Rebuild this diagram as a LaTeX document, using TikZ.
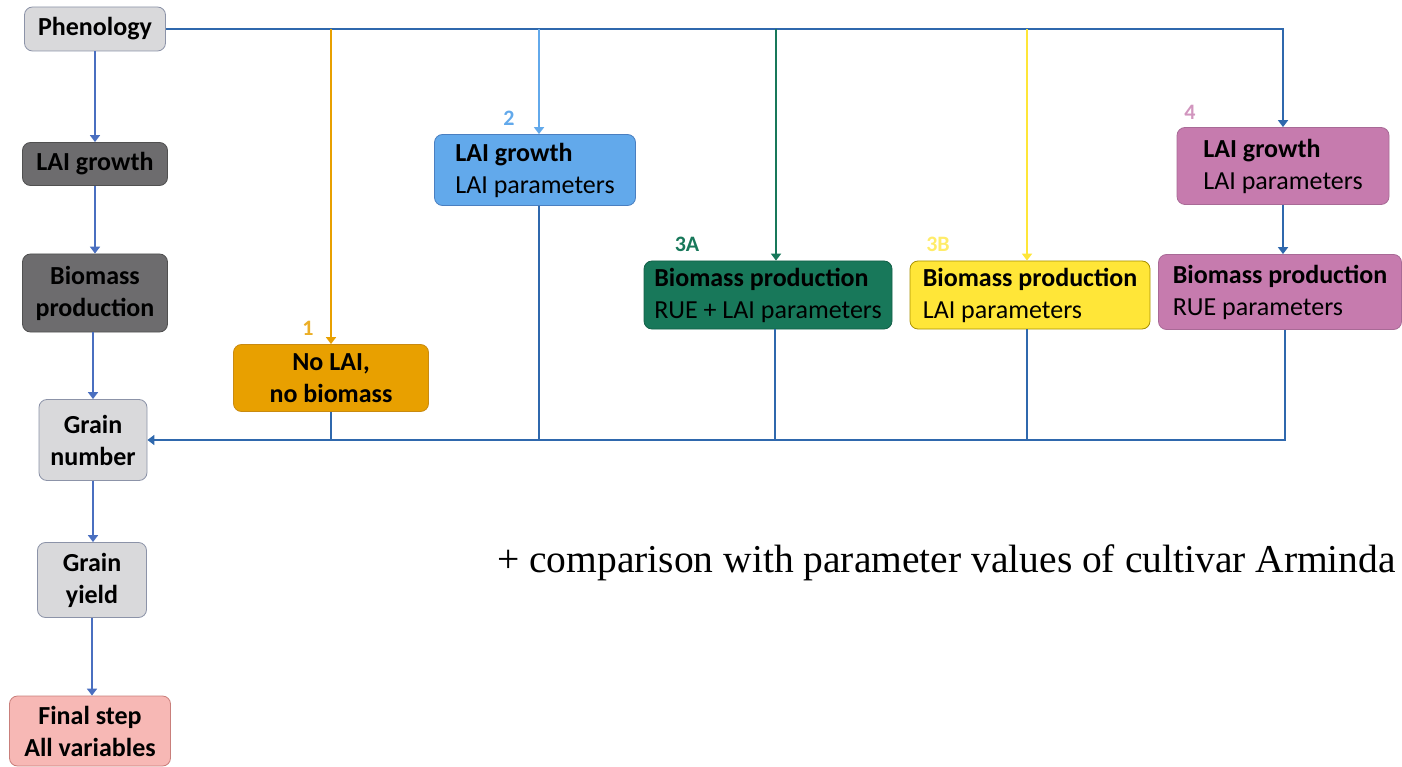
\documentclass[tikz,border=0pt]{standalone}
\usepackage{fontspec}
\setmainfont{Carlito}
\newfontfamily\notefont{Liberation Serif}
\usetikzlibrary{positioning,arrows.meta}
\definecolor{greyfill}{HTML}{D9D9DB}
\definecolor{greyline}{HTML}{8C93A8}
\definecolor{darkfill}{HTML}{6D6C6E}
\definecolor{darkline}{HTML}{505050}
\definecolor{pinkfill}{HTML}{F7B8B5}
\definecolor{pinkline}{HTML}{C97F7B}
\definecolor{orangefill}{HTML}{E8A000}
\definecolor{orangeline}{HTML}{C98A10}
\definecolor{lightblue}{HTML}{62A9EB}
\definecolor{lightblueline}{HTML}{4A7FC0}
\definecolor{greenfill}{HTML}{18785A}
\definecolor{yellowfill}{HTML}{FFE638}
\definecolor{yellowline}{HTML}{A89000}
\definecolor{mauve}{HTML}{C67BAE}
\definecolor{mauveline}{HTML}{A86A96}
\definecolor{chain}{HTML}{4A6FC0}
\definecolor{bus}{HTML}{2F68AD}

\begin{document}
\begin{tikzpicture}[x=1pt,y=-1pt,
  box/.style={draw, rounded corners=8pt, line width=0.8pt, align=center,
    inner sep=0pt, font=\fontsize{26}{32}\selectfont\bfseries},
  parbox/.style={draw, rounded corners=8pt, line width=0.8pt, align=left,
    inner sep=0pt, font=\fontsize{26}{32}\selectfont},
  tag/.style={font=\fontsize{22}{24}\selectfont\bfseries},
  chainarrow/.style={draw=chain, line width=2.4pt, -{Triangle[width=10pt,length=7pt]}},
  busline/.style={draw=bus, line width=2.4pt},
  busarrow/.style={busline, -{Triangle[width=10pt,length=7pt]}},
  droparrow/.style={line width=2.2pt, -{Triangle[width=10pt,length=7pt]}}]

  \useasboundingbox (0,0) rectangle (1402,767);

  % LEFT CHAIN
  \node[box, fill=greyfill, draw=greyline, minimum width=141pt, minimum height=44pt] (phen) at (95,29) {Phenology};
  \node[box, fill=darkfill, draw=darkline, minimum width=145pt, minimum height=43pt] (lail) at (95,164) {LAI growth};
  \node[box, fill=darkfill, draw=darkline, minimum width=145pt, minimum height=78pt] (biol) at (95,293) {Biomass\\production};
  \node[box, fill=greyfill, draw=greyline, minimum width=108pt, minimum height=81pt] (gnum) at (93,440) {Grain\\number};
  \node[box, fill=greyfill, draw=greyline, minimum width=109pt, minimum height=75pt] (gyld) at (92,580) {Grain\\yield};
  \node[box, fill=pinkfill, draw=pinkline, minimum width=161pt, minimum height=70pt] (fin) at (90,731) {Final step\\All variables};

  % OPTION BOXES
  \node[box, fill=orangefill, draw=orangeline, minimum width=195pt, minimum height=67pt] (opt1) at (331,378) {No LAI,\\no biomass};
  \node[parbox, fill=lightblue, draw=lightblueline, minimum width=201pt, minimum height=71pt] (opt2) at (535,170) {\textbf{LAI growth}\\LAI parameters};
  \node[parbox, fill=greenfill, draw=greenfill!80!black, minimum width=248pt, minimum height=68pt] (opt3a) at (768,295) {\textbf{Biomass production}\\RUE + LAI parameters};
  \node[parbox, fill=yellowfill, draw=yellowline, minimum width=240pt, minimum height=68pt] (opt3b) at (1030,295) {\textbf{Biomass production}\\LAI parameters};
  \node[parbox, fill=mauve, draw=mauveline, minimum width=212pt, minimum height=77pt] (lai4) at (1283,166) {\textbf{LAI growth}\\LAI parameters};
  \node[parbox, fill=mauve, draw=mauveline, minimum width=243pt, minimum height=75pt] (bio4) at (1280,292) {\textbf{Biomass production}\\RUE parameters};

  % TAGS
  \node[tag, text=orangefill!85!white] (tag1) at (308,328) {1};
  \node[tag, text=lightblue] (tag2) at (509,118) {2};
  \node[tag, text=greenfill] (tag3a) at (687,244) {3A};
  \node[tag, text=yellowfill!75!white] (tag3b) at (938,244) {3B};
  \node[tag, text=mauve!80!white] (tag4) at (1190,112) {4};

  \node[font=\notefont\fontsize{39.5}{44}\selectfont, anchor=base west, inner sep=0pt] (note) at (497,572) {+ comparison with parameter values of cultivar Arminda};

  % CHAIN ARROWS
  \draw[chainarrow] (phen.south) -- (phen.south |- lail.north);
  \draw[chainarrow] (lail.south) -- (lail.south |- biol.north);
  \draw[chainarrow] (gnum.north |- biol.south) -- (gnum.north);
  \draw[chainarrow] (gnum.south) -- (gnum.south |- gyld.north);
  \draw[chainarrow] (gyld.south) -- (gyld.south |- fin.north);

  % TOP BUS
  \draw[busarrow] (phen.east) -| (lai4.north);
  \draw[busarrow] (lai4) -- (lai4 |- bio4.north);
  \draw[droparrow, draw=orangefill] (phen.east -| opt1.north) -- (opt1.north);
  \draw[droparrow, draw=lightblue] (phen.east -| opt2.north) ++(4,0) -- ([xshift=4pt]opt2.north);
  \draw[droparrow, draw=greenfill] (phen.east -| opt3a.north) ++(8,0) -- ([xshift=8pt]opt3a.north);
  \draw[droparrow, draw=yellowfill] (phen.east -| opt3b.north) ++(-3,0) -- ([xshift=-3pt]opt3b.north);

  % BOTTOM BUS
  \draw[busarrow] ([xshift=5pt]bio4.south) |- (gnum.east);
  \draw[busline] (opt1.south) -- (opt1.south |- gnum.east);
  \draw[busline] ([xshift=4pt]opt2.south) -- ([xshift=4pt]opt2.south |- gnum.east);
  \draw[busline] ([xshift=7pt]opt3a.south) -- ([xshift=7pt]opt3a.south |- gnum.east);
  \draw[busline] ([xshift=-3pt]opt3b.south) -- ([xshift=-3pt]opt3b.south |- gnum.east);

\end{tikzpicture}
\end{document}
